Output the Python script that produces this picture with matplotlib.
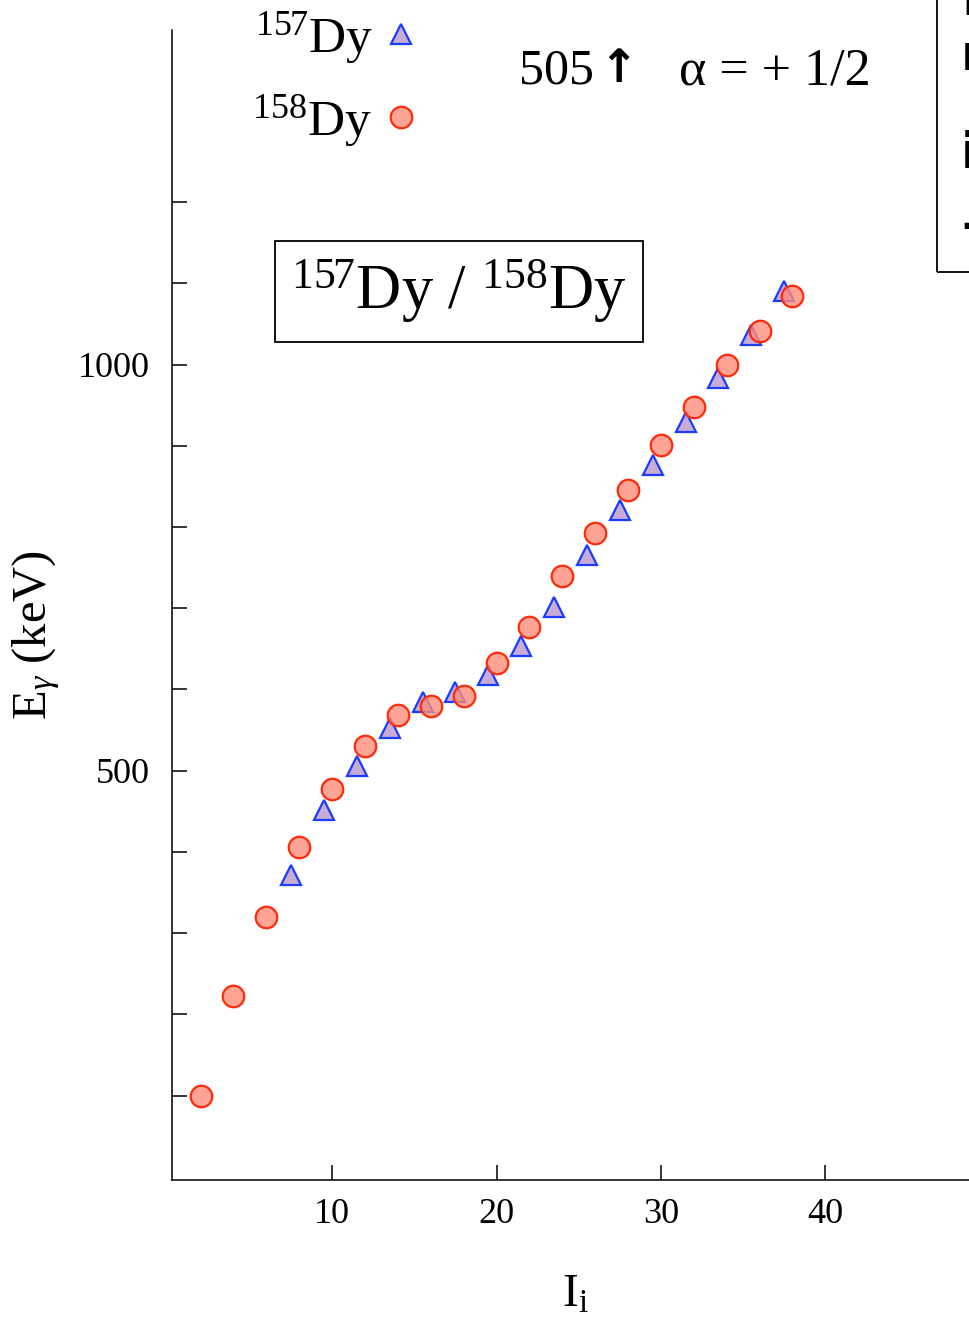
import matplotlib
matplotlib.use("Agg")
from matplotlib import pyplot as plt
from matplotlib.patches import Rectangle

plt.rcParams['font.family'] = ['Liberation Serif', 'DejaVu Serif']
plt.rcParams['mathtext.fontset'] = 'custom'
plt.rcParams['mathtext.rm'] = 'Liberation Serif'
plt.rcParams['mathtext.it'] = 'Liberation Serif:italic'

# 157Dy, band 505 (alpha = +1/2)
spin157 = [7.5, 9.5, 11.5, 13.5, 15.5, 17.5, 19.5, 21.5, 23.5, 25.5, 27.5, 29.5, 31.5, 33.5, 35.5, 37.5]
e157 = [372, 452, 506, 553, 584, 597, 618, 653, 702, 766, 821, 877, 929, 984, 1036, 1091]
# 158Dy ground band
spin158 = [2, 4, 6, 8, 10, 12, 14, 16, 18, 20, 22, 24, 26, 28, 30, 32, 34, 36, 38]
e158 = [99, 223, 320, 406, 478, 531, 568, 580, 592, 633, 677, 740, 793, 846, 901, 948, 1000, 1042, 1084]

xticks = [10, 20, 30, 40]
yticks = [500, 1000]
yminor = [100, 200, 300, 400, 600, 700, 800, 900, 1100, 1200]

fig = plt.figure(figsize=(9.7, 13.22), dpi=100)
ax = fig.add_axes([0.1773, 0.1074, 0.8227, 0.8699])

ax.plot(spin157, e157, ls='none', marker='^', ms=15, mfc=(0.75, 0.62, 0.82, 0.85),
        mec='#1a3cff', mew=1.6, label=r'$^{157}$Dy', zorder=3)
ax.plot(spin158, e158, ls='none', marker='o', ms=15.5, mfc=(1.0, 0.55, 0.48, 0.8),
        mec='#ff2a0a', mew=1.6, label=r'$^{158}$Dy', zorder=4)

ax.set_xlim(0.26, 48.8)
ax.set_ylim(-4, 1412)
ax.set_xticks(xticks)
ax.set_yticks(yticks)
ax.set_yticks(yminor, minor=True)
ax.tick_params(which='both', direction='in', length=11, width=1.1, labelsize=26)
ax.tick_params(axis='y', pad=16)
ax.tick_params(axis='x', pad=13)
for s in ['top', 'right']:
    ax.spines[s].set_visible(False)
for s in ['left', 'bottom']:
    ax.spines[s].set_linewidth(1.1)

ax.set_ylabel(r'E$_\gamma$ (keV)', fontsize=35, va='center')
ax.yaxis.set_label_coords(-0.170, 0.474)
ax.set_xlabel(r'I$_\mathrm{i}$', fontsize=34, va='center')
ax.xaxis.set_label_coords(0.505, -0.1)

leg = ax.legend(loc='upper left', bbox_to_anchor=(0.075, 1.035), frameon=False,
                markerfirst=False, fontsize=37, handlelength=0.6, handletextpad=0.25,
                labelspacing=0.52, borderaxespad=0)

ax.text(0.435, 0.964, '505', transform=ax.transAxes, fontsize=36, ha='left', va='center')
ax.text(0.535, 0.966, '\u2191', transform=ax.transAxes, fontsize=33, ha='left', va='center',
        family='DejaVu Sans', weight='bold')
ax.text(0.635, 0.964, '\u03b1 = + 1/2', transform=ax.transAxes, fontsize=37.5, ha='left', va='center')

ax.text(17.73, 1090, r'$^{157}$Dy / $^{158}$Dy', fontsize=45, ha='center', va='center',
        bbox=dict(boxstyle='square,pad=0.26', fc='white', ec='black', lw=1.3))

# edge of the neighbouring panel
fig.patches.append(Rectangle((937 / 970, 1 - 272 / 1322), 0.2, 0.3, transform=fig.transFigure,
                             fill=False, ec='black', lw=1.3))
for ch, yy in [('I', 1 - 15 / 1322), ('n', 1 - 70 / 1322), ('i', 1 - 168 / 1322), ('\u2013', 1 - 240 / 1322)]:
    fig.text(961 / 970, yy, ch, fontsize=36, family='DejaVu Sans', weight='bold', ha='left', va='baseline')

fig.savefig('out.png', dpi=100)
